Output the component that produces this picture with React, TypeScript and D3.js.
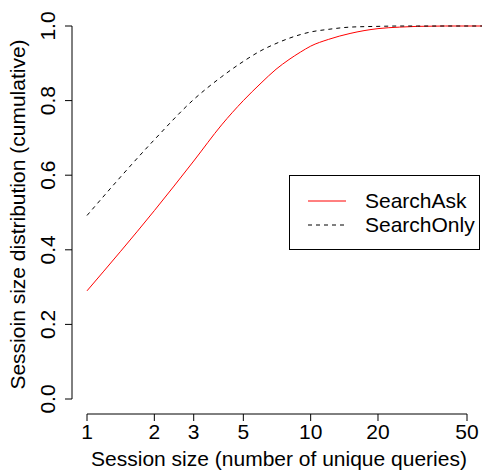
import * as d3 from 'd3';

// session size (number of unique queries)
const sizes = [1, 2, 3, 4, 5, 6, 7, 8, 9, 10, 12, 15, 20, 25, 30, 40, 60];
const searchAsk = [0.29, 0.505, 0.638, 0.735, 0.8, 0.847, 0.884, 0.91, 0.93, 0.946, 0.964, 0.98, 0.993, 0.997, 0.999, 1.0, 1.0];
const searchOnly = [0.492, 0.695, 0.803, 0.864, 0.905, 0.934, 0.953, 0.967, 0.977, 0.984, 0.991, 0.997, 0.999, 1.0, 1.0, 1.0, 1.0];

const xTicks = [1, 2, 3, 5, 10, 20, 50];
const yTicks = [0, 0.2, 0.4, 0.6, 0.8, 1.0];

const legendLabels = ['SearchAsk', 'SearchOnly'];

const W = 483;
const H = 473;
const font = 'Liberation Sans, Arial, Helvetica, sans-serif';
const fs = 21;

export default function App() {
  const x = d3.scaleLog().domain([1, 50]).range([87, 467]);
  const y = d3.scaleLinear().domain([0, 1]).range([399, 26]);
  // plot region (R extends the range by 4%)
  const left = 72, right = 482, top = 11, bottom = 414;

  const line = d3.line<number>()
    .x((_, i) => x(sizes[i]))
    .y(d => y(d))
    .curve(d3.curveMonotoneX);

  return (
    <svg width={W} height={H} style={{ position: 'absolute', left: 0, top: 0, background: '#fff' }} fontFamily={font}>
      <defs>
        <clipPath id="plot">
          <rect x={left} y={top} width={right - left} height={bottom - top} />
        </clipPath>
      </defs>

      {/* y axis */}
      <line x1={left} x2={left} y1={y(0)} y2={y(1)} stroke="#000" />
      {yTicks.map(t => (
        <g key={t}>
          <line x1={left - 7} x2={left} y1={y(t)} y2={y(t)} stroke="#000" />
          <text transform={`translate(55,${y(t)}) rotate(-90)`} textAnchor="middle" fontSize={fs}>
            {t.toFixed(1)}
          </text>
        </g>
      ))}
      <text transform={`translate(25,${(top + bottom) / 2 + 2}) rotate(-90)`} textAnchor="middle" fontSize={fs}>
        Sessioin size distribution (cumulative)
      </text>

      {/* x axis */}
      <line x1={x(1)} x2={x(50)} y1={bottom} y2={bottom} stroke="#000" />
      {xTicks.map(t => (
        <g key={t}>
          <line x1={x(t)} x2={x(t)} y1={bottom} y2={bottom + 7} stroke="#000" />
          <text x={x(t)} y={439} textAnchor="middle" fontSize={fs}>{t}</text>
        </g>
      ))}
      <text x={(left + right) / 2 + 2} y={466} textAnchor="middle" fontSize={fs}>
        Session size (number of unique queries)
      </text>

      {/* curves */}
      <g clipPath="url(#plot)">
        <path d={line(searchAsk) ?? ''} fill="none" stroke="#ff0000" strokeWidth={1} />
        <path d={line(searchOnly) ?? ''} fill="none" stroke="#000" strokeWidth={1} strokeDasharray="4,4" />
      </g>

      {/* legend */}
      <rect x={289.5} y={175.5} width={190} height={74} fill="#fff" stroke="#000" />
      {legendLabels.map((lab, i) => (
        <g key={lab}>
          <line x1={308} x2={346} y1={201 + i * 24} y2={201 + i * 24}
            stroke={i === 0 ? '#ff0000' : '#000'} strokeDasharray={i === 0 ? undefined : '4,4'} />
          <text x={365} y={208 + i * 24} fontSize={fs}>{lab}</text>
        </g>
      ))}
    </svg>
  );
}
